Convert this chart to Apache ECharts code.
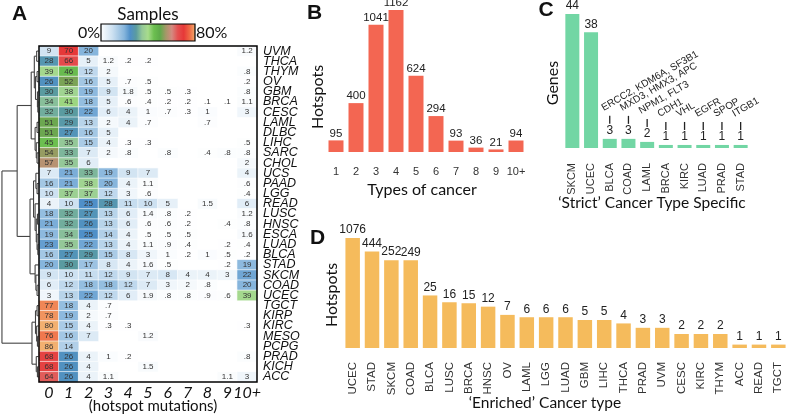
<!DOCTYPE html>
<html><head><meta charset="utf-8">
<script src="https://cdn.jsdelivr.net/npm/echarts@6/dist/echarts.min.js"></script>
<style>html,body{margin:0;padding:0;background:#fff}#c{width:788px;height:414px}</style>
</head><body><div id="c"></div>
<script>
// ---------- Panel A data ----------
const rowNames = ['UVM','THCA','THYM','OV','GBM','BRCA','CESC','LAML','DLBC','LIHC','SARC','CHOL','UCS','PAAD','LGG','READ','LUSC','HNSC','ESCA','LUAD','BLCA','STAD','SKCM','COAD','UCEC','TGCT','KIRP','KIRC','MESO','PCPG','PRAD','KICH','ACC'];
const colNames = ['0','1','2','3','4','5','6','7','8','9','10+'];
const N = null;
const samplePct = [
  [9,70,20,N,N,N,N,N,N,N,1.2],
  [28,66,5,1.2,0.2,0.2,N,N,N,N,N],
  [39,46,12,2,N,N,N,N,N,N,0.8],
  [26,52,16,5,0.7,0.5,N,N,N,N,0.2],
  [30,38,19,9,1.8,0.5,0.5,0.3,N,N,0.8],
  [34,41,18,5,0.6,0.4,0.2,0.2,0.1,0.1,1.1],
  [32,30,22,6,4,1,0.7,0.3,1,N,3],
  [51,29,13,2,4,0.7,N,N,0.7,N,N],
  [51,27,16,5,N,N,N,N,N,N,N],
  [45,35,15,4,0.3,0.3,N,N,N,N,0.5],
  [54,33,7,2,0.8,N,0.8,N,0.4,0.8,0.8],
  [57,35,6,N,N,N,N,N,N,N,2],
  [7,21,33,19,9,7,N,N,N,N,4],
  [16,21,38,20,4,1.1,N,N,N,N,0.6],
  [10,37,37,12,3,0.6,N,N,N,N,0.4],
  [4,10,25,28,11,10,5,N,1.5,N,6],
  [18,32,27,13,6,1.4,0.8,0.2,N,N,1.2],
  [21,32,26,13,6,0.6,0.6,0.2,N,0.4,0.8],
  [19,34,25,14,4,0.5,0.5,0.5,N,N,1.6],
  [23,35,22,13,4,1.1,0.9,0.4,N,0.2,0.4],
  [16,27,29,15,8,3,1,0.2,1,0.5,0.2],
  [20,30,17,8,4,1.6,0.5,N,N,0.2,19],
  [9,10,11,12,9,7,8,4,4,3,22],
  [6,12,18,18,12,7,3,2,0.8,N,20],
  [3,13,22,12,6,1.9,0.8,0.8,0.9,0.6,39],
  [77,18,4,0.7,N,N,N,N,N,N,N],
  [78,19,2,0.7,N,N,N,N,N,N,N],
  [80,15,4,0.3,0.3,N,N,N,N,N,0.3],
  [76,16,7,N,N,1.2,N,N,N,N,N],
  [86,14,N,N,N,N,N,N,N,N,N],
  [68,26,4,1,0.2,N,N,N,N,N,0.8],
  [68,26,4,N,N,1.5,N,N,N,N,N],
  [64,26,4,1.1,N,N,N,N,N,1.1,3]
];
// dendrogram merge tree: [height, left, right], leaves = row index
const dendroTree = [0.95,
  [0.56,
    [0.2, [0.12, [0.06,0,1], [0.09, [0.05,2,3], [0.04,4,[0.03,5,6]]]], [0.1, [0.05,7,8], [0.07,9,[0.05,10,11]]]],
    [0.23, [0.14, [0.08,12,[0.05,13,14]], [0.1,15,[0.07,[0.04,16,17],[0.05,18,[0.03,19,20]]]]], [0.1,21,[0.08,22,[0.05,23,24]]]]
  ],
  [0.18, [0.09,[0.05,25,26],[0.06,27,[0.04,28,29]]], [0.07,30,[0.04,31,32]]]
];
const heatColors = ['#ffffff','#e6f0f8','#cde1f1','#aacbe6','#86b5dc','#4f8fc8','#5a9ba0','#94c898','#a8dc8c','#6cbf50','#5eab4a','#a49868','#d48a80','#e45050','#e63838','#ef6a45','#f2b070'];

// ---------- Panel B ----------
const bCats = ['1','2','3','4','5','6','7','8','9','10+'];
const bValues = [95,400,1041,1162,624,294,93,36,21,94];
// ---------- Panel C ----------
const cCats = ['SKCM','UCEC','BLCA','COAD','LAML','BRCA','KIRC','LUAD','PRAD','STAD'];
const cValues = [44,38,3,3,2,1,1,1,1,1];
const cGenes = ['','','ERCC2, KDM6A, SF3B1','MXD3, HMX3, APC','NPM1, FLT3','CDH1','VHL','EGFR','SPOP','ITGB1'];
// ---------- Panel D ----------
const dCats = ['UCEC','STAD','SKCM','COAD','BLCA','LUSC','BRCA','HNSC','OV','LAML','LGG','LUAD','GBM','LIHC','THCA','PRAD','UVM','CESC','KIRC','THYM','ACC','READ','TGCT'];
const dValues = [1076,444,252,249,25,16,15,12,7,6,6,6,5,5,4,3,3,2,2,2,1,1,1];
const dLogMin = 0.8;

// ---------- build ----------
const heatData = [];
samplePct.forEach((row, r) => row.forEach((v, c) => { if (v !== null) heatData.push([c, r, v]); }));
const segs = [];
function lay(node) {
  if (typeof node === 'number') return {y: node, h: 0};
  const l = lay(node[1]), r = lay(node[2]), h = node[0];
  segs.push([l.h, l.y, h, l.y]);
  segs.push([r.h, r.y, h, r.y]);
  segs.push([h, l.y, h, r.y]);
  return {y: (l.y + r.y) / 2, h};
}
lay(dendroTree);
const fmt = v => v < 1 ? '.' + String(v).split('.')[1] : String(v);
const cAnn = [];
cGenes.forEach((g, i) => { if (g) cAnn.push([i, cValues[i]]); });
const cAnnIdx = cGenes.map((g,i)=>g?i:-1).filter(i=>i>=0);

const SANS = 'Liberation Sans';
const TITLE = 'Lato';
const hiddenY = {axisLine:{show:false}, axisTick:{show:false}, axisLabel:{show:false}, splitLine:{show:false}};
const catX = (gi, data, extra) => Object.assign({gridIndex: gi, type:'category', data, axisLine:{show:false}, axisTick:{show:false}},
  {axisLabel: Object.assign({interval:0, fontFamily:SANS, fontSize:11, color:'#333'}, extra)});

const stops = heatColors.map((c, i) => ({offset: i/(heatColors.length-1), color: c}));
function txt(text, x, y, font, opts) {
  return Object.assign({type:'text', x, y, style: Object.assign({text, font, fill:'#111', textAlign:'center', textVerticalAlign:'middle'}, (opts&&opts.style)||{})}, opts&&opts.rot?{rotation:opts.rot}:{});
}

const option = {
  animation: false,
  grid: [
    {left:0, top:46, width:39, height:336},
    {left:39, top:46, width:218, height:336, show:true, borderColor:'#000', borderWidth:1.5, backgroundColor:'transparent', z:10},
    {left:326, top:10, width:200, height:142},
    {left:563, top:14, width:187, height:134},
    {left:343, top:238, width:445, height:110}
  ],
  xAxis: [
    {gridIndex:0, type:'value', min:0, max:1, inverse:true, show:false},
    {gridIndex:1, type:'category', data:colNames, axisLine:{show:false}, axisTick:{show:false},
      axisLabel:{interval:0, fontFamily:TITLE, fontStyle:'italic', fontSize:16, color:'#111', margin:3}},
    catX(2, bCats, {margin:14}),
    catX(3, cCats, {rotate:90, margin:15}),
    catX(4, dCats, {rotate:90, margin:14, fontSize:11.5})
  ],
  yAxis: [
    {gridIndex:0, type:'value', min:-0.5, max:32.5, inverse:true, show:false},
    {gridIndex:1, type:'category', data:rowNames, inverse:true, position:'right', axisLine:{show:false}, axisTick:{show:false},
      axisLabel:{interval:0, fontFamily:SANS, fontStyle:'italic', fontSize:12.5, color:'#111', margin:6}},
    Object.assign({gridIndex:2, type:'value', min:0, max:1162}, hiddenY),
    Object.assign({gridIndex:3, type:'value', min:0, max:44}, hiddenY),
    Object.assign({gridIndex:4, type:'log', min:dLogMin, max:1076}, hiddenY)
  ],
  visualMap: {show:false, type:'continuous', min:0, max:80, seriesIndex:1, dimension:2, inRange:{color:heatColors}},
  series: [
    {type:'custom', xAxisIndex:0, yAxisIndex:0, data:segs, encode:{x:[0,2], y:[1,3]}, silent:true,
      renderItem:(p, api) => {
        const a = api.coord([api.value(0), api.value(1)]), b = api.coord([api.value(2), api.value(3)]);
        return {type:'line', shape:{x1:a[0], y1:a[1], x2:b[0], y2:b[1]}, style:{stroke:'#444', lineWidth:1.1}};
      }},
    {type:'heatmap', xAxisIndex:1, yAxisIndex:1, data:heatData,
      itemStyle:{borderColor:'#fff', borderWidth:0.6},
      label:{show:true, fontFamily:SANS, fontSize:8, color:'#333', formatter: p => fmt(p.value[2])},
      emphasis:{disabled:true}},
    {type:'bar', xAxisIndex:2, yAxisIndex:2, data:bValues, barWidth:15, itemStyle:{color:'#f36652'},
      label:{show:true, position:'top', distance:1, fontFamily:SANS, fontSize:11.5, color:'#222'}},
    {type:'bar', xAxisIndex:3, yAxisIndex:3, data:cValues, barWidth:14, itemStyle:{color:'#72d6a4'},
      label:{show:true, position:'top', distance:2, fontFamily:SANS, fontSize:12, color:'#222'}},
    {type:'custom', xAxisIndex:3, yAxisIndex:3, data:cAnn, encode:{x:0, y:1}, silent:true,
      renderItem:(params, api) => {
        const p = api.coord([api.value(0), api.value(1)]);
        const g = cGenes[cAnnIdx[params.dataIndex]];
        return {type:'group', children:[
          {type:'line', shape:{x1:p[0], y1:p[1]-23, x2:p[0], y2:p[1]-15}, style:{stroke:'#222', lineWidth:1.3}},
          {type:'text', x:p[0]-5, y:p[1]-26, rotation:Math.PI/6,
            style:{text:g, font:'10px ' + SANS, fill:'#222', textAlign:'left', textVerticalAlign:'bottom'}}
        ]};
      }},
    {type:'custom', xAxisIndex:4, yAxisIndex:4, data:dValues.map((v,i)=>[i,v]), encode:{x:0, y:1},
      renderItem:(params, api) => {
        const i = api.value(0), v = api.value(1);
        const top = api.coord([i, v]), base = api.coord([i, dLogMin]);
        const w = 14.5;
        return {type:'rect', shape:{x:top[0]-w/2, y:top[1], width:w, height:base[1]-top[1]}, style:{fill:'#f5bb5c'},
          textContent:{style:{text:String(dValues[params.dataIndex]), font:'12px ' + SANS, fill:'#222'}},
          textConfig:{position:'top', distance:2}};
      }}
  ],
  graphic: [
    txt('A', 19.5, 14, 'bold 21px ' + SANS),
    txt('B', 314.5, 13, 'bold 21px ' + SANS),
    txt('C', 546, 10, 'bold 21px ' + SANS),
    txt('D', 317.5, 238, 'bold 21px ' + SANS),
    {type:'rect', shape:{x:101, y:24, width:94, height:17},
      style:{fill:{type:'linear', x:0, y:0, x2:1, y2:0, colorStops:stops}, stroke:'#000', lineWidth:1.2}},
    txt('Samples', 148, 15, '17px ' + TITLE),
    txt('0%', 100, 33, '16px ' + TITLE, {style:{textAlign:'right'}}),
    txt('80%', 196, 33, '16px ' + TITLE, {style:{textAlign:'left'}}),
    txt('(hotspot mutations)', 153, 406, '15px ' + TITLE),
    txt('Types of cancer', 422, 190, '16px ' + TITLE),
    txt('Hotspots', 318, 97, '16px ' + TITLE, {rot:Math.PI/2}),
    txt('\u2018Strict\u2019 Cancer Type Specific', 652, 203, '15.5px ' + TITLE),
    txt('Genes', 553, 83, '16px ' + TITLE, {rot:Math.PI/2}),
    txt('\u2018Enriched\u2019 Cancer type', 545, 403, '15.5px ' + TITLE),
    txt('Hotspots', 332, 295, '16px ' + TITLE, {rot:Math.PI/2})
  ]
};
const chart = echarts.init(document.getElementById('c'), null, {renderer:'canvas'});
chart.setOption(option);
</script></body></html>
